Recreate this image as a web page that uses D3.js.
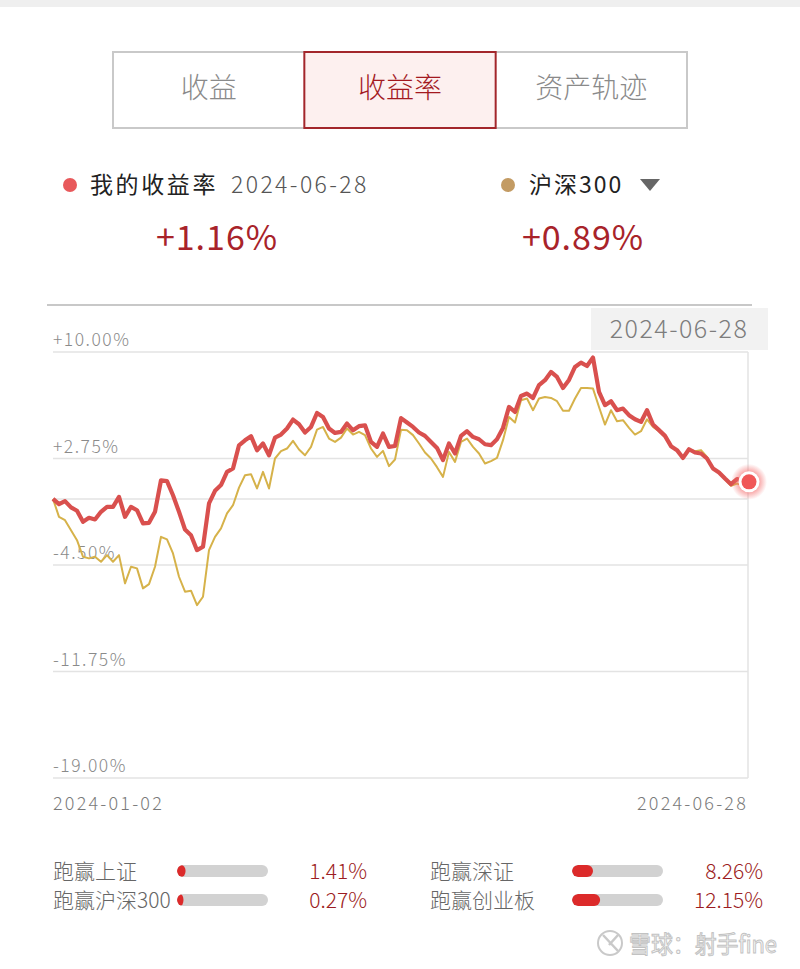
<!DOCTYPE html>
<html>
<head>
<meta charset="utf-8">
<script src="https://cdn.jsdelivr.net/npm/d3@7"></script>
<style>
body { margin: 0; background: #fff; }
text { font-family: "Noto Sans CJK SC", "Noto Sans", sans-serif; }
</style>
</head>
<body>
<div id="c"></div>
<script>
// values, one per trading day (2024-01-02 .. 2024-06-28)
var my_rate = [0.00, -0.36, -0.15, -0.58, -0.81, -1.56, -1.29, -1.40, -0.88, -0.54,
	-0.54, 0.14, -1.22, -0.54, -0.77, -1.67, -1.63, -0.88, 1.27, 1.21,
	0.25, -0.88, -2.08, -2.47, -3.49, -3.26, -0.31, 0.55, 0.94, 1.84,
	2.07, 3.65, 3.99, 4.27, 3.31, 3.77, 2.97, 4.17, 4.38, 4.79,
	5.40, 5.08, 4.52, 4.90, 5.85, 5.58, 4.79, 4.49, 4.56, 5.13,
	4.67, 4.95, 5.01, 3.88, 3.54, 4.45, 3.54, 3.60, 5.50, 5.20,
	4.90, 4.52, 4.29, 3.88, 3.47, 2.64, 3.77, 3.09, 4.29, 4.61,
	4.22, 4.06, 3.72, 3.66, 4.06, 4.83, 6.26, 5.92, 7.01, 7.17,
	6.87, 7.74, 8.08, 8.64, 8.30, 7.55, 8.10, 8.98, 9.28, 9.05,
	9.62, 7.28, 6.38, 6.65, 6.04, 6.15, 5.70, 5.42, 5.24, 6.04,
	5.06, 4.68, 4.29, 3.59, 3.32, 2.79, 3.38, 3.16, 3.09, 2.75,
	2.07, 1.80, 1.39, 1.00, 1.35, 1.20, 1.16];

var hs300 = [0.00, -1.22, -1.45, -2.13, -2.81, -3.94, -4.05, -3.94, -4.28, -3.83,
	-4.28, -3.83, -5.75, -4.62, -4.73, -6.09, -5.80, -4.62, -2.58, -2.76,
	-3.71, -5.30, -6.32, -6.25, -7.23, -6.66, -3.49, -2.58, -2.01, -0.99,
	-0.43, 0.77, 1.61, 1.68, 0.71, 1.84, 0.71, 2.75, 3.25, 3.43,
	3.95, 3.36, 2.97, 3.54, 4.72, 4.90, 4.11, 3.88, 4.17, 4.79,
	4.38, 4.56, 4.34, 3.43, 2.86, 3.27, 2.23, 2.68, 4.70, 4.68,
	4.34, 3.77, 3.16, 2.75, 2.16, 1.50, 3.20, 2.52, 3.88, 4.11,
	3.54, 3.09, 2.41, 2.57, 2.79, 4.00, 5.58, 5.20, 6.72, 6.83,
	6.04, 6.83, 6.94, 6.87, 6.65, 6.00, 6.00, 6.83, 7.55, 7.55,
	7.51, 6.26, 5.06, 6.04, 5.29, 5.36, 4.83, 4.38, 4.61, 5.42,
	4.90, 4.61, 4.22, 3.59, 3.32, 2.79, 3.38, 3.25, 3.32, 2.86,
	2.02, 1.80, 1.34, 0.89, 1.05, 0.93, 0.89];

var y_ticks = [10, 2.75, -4.5, -11.75, -19];
var x_labels = ["2024-01-02", "2024-06-28"];
var tabs = ["收益", "收益率", "资产轨迹"];
var beat_names = ["跑赢上证", "跑赢沪深300", "跑赢深证", "跑赢创业板"];
var beat_values = [1.41, 0.27, 8.26, 12.15];

var width = 800;
var height = 969;

var red = "#d9504e";
var gold = "#d6b24a";
var dark_red = "#a8232a";

var svg = d3.select("#c").append("svg")
	.attr("width", width)
	.attr("height", height);

var defs = svg.append("defs");

// top strip
svg.append("rect")
	.attr("x", 0).attr("y", 0)
	.attr("width", width).attr("height", 7)
	.attr("fill", "#efefef");

// ---- tabs ----
var tab_x = d3.scaleBand()
	.domain(tabs)
	.range([113, 687]);

svg.append("rect")
	.attr("x", 113).attr("y", 52)
	.attr("width", 574).attr("height", 76)
	.attr("fill", "#fff")
	.attr("stroke", "#c9c9c9")
	.attr("stroke-width", 2);

svg.append("rect")
	.attr("x", tab_x("收益率")).attr("y", 52)
	.attr("width", tab_x.bandwidth()).attr("height", 76)
	.attr("fill", "#fdf0ef")
	.attr("stroke", "#a3262b")
	.attr("stroke-width", 2);

svg.selectAll(".tab")
	.data(tabs)
	.enter()
	.append("text")
	.attr("class", "tab")
	.attr("x", function(d) { return tab_x(d) + tab_x.bandwidth() / 2; })
	.attr("y", 98)
	.attr("text-anchor", "middle")
	.attr("font-size", 28)
	.attr("font-weight", 300)
	.attr("fill", function(d) { return d == "收益率" ? "#a3191f" : "#8a8a8a"; })
	.text(function(d) { return d; });

// ---- legend ----
svg.append("circle").attr("cx", 70).attr("cy", 185).attr("r", 7).attr("fill", "#e8595b");
svg.append("text").attr("x", 90).attr("y", 193).attr("font-size", 23).attr("letter-spacing", 2.6)
	.attr("fill", "#222").text("我的收益率");
svg.append("text").attr("x", 231).attr("y", 193).attr("font-size", 23).attr("fill", "#555")
	.attr("font-weight", 300).attr("letter-spacing", 2.4).text("2024-06-28");

svg.append("circle").attr("cx", 508).attr("cy", 185).attr("r", 7).attr("fill", "#c39b63");
svg.append("text").attr("x", 529).attr("y", 193).attr("font-size", 23).attr("letter-spacing", 2)
	.attr("fill", "#222").text("沪深300");
svg.append("path").attr("d", "M640,179 L660,179 L650,191 Z").attr("fill", "#666");

svg.append("text").attr("x", 217).attr("y", 250).attr("text-anchor", "middle")
	.attr("font-size", 34).attr("fill", dark_red).attr("letter-spacing", 1)
	.text("+" + my_rate[my_rate.length - 1].toFixed(2) + "%");
svg.append("text").attr("x", 583).attr("y", 250).attr("text-anchor", "middle")
	.attr("font-size", 34).attr("fill", dark_red).attr("letter-spacing", 1)
	.text("+" + hs300[hs300.length - 1].toFixed(2) + "%");

// ---- chart ----
var x0 = 53, x1 = 749;
var x_scale = d3.scaleLinear()
	.domain([0, my_rate.length - 1])
	.range([x0, x1]);

var y_scale = d3.scaleLinear()
	.domain([-19, 10])
	.range([778, 352]);

svg.append("line")
	.attr("x1", 47).attr("x2", 752)
	.attr("y1", 305).attr("y2", 305)
	.attr("stroke", "#c8c8c8")
	.attr("stroke-width", 2);

var grid = svg.append("g");
grid.selectAll("line")
	.data(y_ticks.concat([0]))
	.enter()
	.append("line")
	.attr("x1", x0).attr("x2", 748)
	.attr("y1", function(d) { return y_scale(d); })
	.attr("y2", function(d) { return y_scale(d); })
	.attr("stroke", "#e3e3e3")
	.attr("stroke-width", 1.5);

grid.append("line")
	.attr("x1", 748).attr("x2", 748)
	.attr("y1", y_scale(10)).attr("y2", y_scale(-19))
	.attr("stroke", "#e3e3e3")
	.attr("stroke-width", 1.5);

function fmt_pct(v) {
	return (v > 0 ? "+" : v < 0 ? "-" : "") + Math.abs(v).toFixed(2) + "%";
}

grid.selectAll("text")
	.data(y_ticks)
	.enter()
	.append("text")
	.attr("x", x0)
	.attr("y", function(d) { return y_scale(d) - 6; })
	.attr("font-size", 17.5)
	.attr("font-weight", 300)
	.attr("letter-spacing", 1.5)
	.attr("fill", "#8a8a8a")
	.text(fmt_pct);

svg.selectAll(".xlab")
	.data(x_labels)
	.enter()
	.append("text")
	.attr("class", "xlab")
	.attr("x", function(d, i) { return i == 0 ? x0 : 748; })
	.attr("y", 810)
	.attr("text-anchor", function(d, i) { return i == 0 ? "start" : "end"; })
	.attr("font-size", 18)
	.attr("font-weight", 300)
	.attr("letter-spacing", 2.2)
	.attr("fill", "#7a7a7a")
	.text(function(d) { return d; });

var line = d3.line()
	.x(function(d, i) { return x_scale(i); })
	.y(function(d) { return y_scale(d); });

svg.append("path")
	.datum(hs300)
	.attr("d", line)
	.attr("fill", "none")
	.attr("stroke", gold)
	.attr("stroke-width", 2)
	.attr("stroke-linejoin", "round");

svg.append("path")
	.datum(my_rate)
	.attr("d", line)
	.attr("fill", "none")
	.attr("stroke", red)
	.attr("stroke-width", 4.2)
	.attr("stroke-linejoin", "round");

// date tip
svg.append("rect")
	.attr("x", 591).attr("y", 308)
	.attr("width", 177).attr("height", 42)
	.attr("fill", "#f2f2f2");
svg.append("text")
	.attr("x", 679).attr("y", 338)
	.attr("text-anchor", "middle")
	.attr("font-size", 25)
	.attr("font-weight", 300)
	.attr("letter-spacing", 1.5)
	.attr("fill", "#7d7d7d")
	.text(x_labels[1]);

// end marker
var glow = defs.append("radialGradient").attr("id", "glow");
glow.append("stop").attr("offset", "55%").attr("stop-color", "#f46a6a").attr("stop-opacity", 0.6);
glow.append("stop").attr("offset", "100%").attr("stop-color", "#f46a6a").attr("stop-opacity", 0);

var last_i = my_rate.length - 1;
svg.append("circle").attr("cx", x_scale(last_i)).attr("cy", y_scale(my_rate[last_i]))
	.attr("r", 18).attr("fill", "url(#glow)");
svg.append("circle").attr("cx", x_scale(last_i)).attr("cy", y_scale(my_rate[last_i]))
	.attr("r", 10.5).attr("fill", "#fff");
svg.append("circle").attr("cx", x_scale(last_i)).attr("cy", y_scale(my_rate[last_i]))
	.attr("r", 7.5).attr("fill", "#f05656");

// ---- beat stats ----
var bar_w = 91, bar_h = 12;
var bar_scale = d3.scaleLinear().domain([0, 50]).range([0, bar_w]);

var rows = svg.selectAll(".beat")
	.data(beat_names)
	.enter()
	.append("g")
	.attr("class", "beat")
	.attr("transform", function(d, i) {
		var col = i < 2 ? 0 : 1, row = i % 2;
		return "translate(" + (col == 0 ? 53 : 430) + "," + (row == 0 ? 871 : 900) + ")";
	});

rows.append("text")
	.attr("x", 0).attr("y", 8)
	.attr("font-size", 21)
	.attr("font-weight", 300)
	.attr("fill", "#666")
	.text(function(d) { return d; });

rows.append("clipPath")
	.attr("id", function(d, i) { return "bclip" + i; })
	.append("rect")
	.attr("x", function(d, i) { return i < 2 ? 124 : 142; })
	.attr("y", -bar_h / 2)
	.attr("width", bar_w).attr("height", bar_h)
	.attr("rx", bar_h / 2);

rows.append("rect")
	.attr("x", function(d, i) { return i < 2 ? 124 : 142; })
	.attr("y", -bar_h / 2)
	.attr("width", bar_w).attr("height", bar_h)
	.attr("rx", bar_h / 2)
	.attr("fill", "#d2d2d2");

rows.append("rect")
	.attr("clip-path", function(d, i) { return "url(#bclip" + i + ")"; })
	.attr("x", function(d, i) { return i < 2 ? 124 : 142; })
	.attr("y", -bar_h / 2)
	.attr("width", function(d, i) { return bar_scale(beat_values[i]) + bar_h / 2; })
	.attr("height", bar_h)
	.attr("rx", bar_h / 2)
	.attr("fill", "#dc2a2a");

rows.append("text")
	.attr("x", function(d, i) { return i < 2 ? 314 : 333; })
	.attr("y", 8)
	.attr("text-anchor", "end")
	.attr("font-size", 21)
	.attr("font-weight", 300)
	.attr("fill", "#9c1c22")
	.text(function(d, i) { return beat_values[i].toFixed(2) + "%"; });

// watermark
var wm = svg.append("g").attr("opacity", 0.9);
wm.append("circle").attr("cx", 610).attr("cy", 943).attr("r", 12)
	.attr("fill", "none").attr("stroke", "#c4c4c4").attr("stroke-width", 2);
wm.append("path").attr("d", "M603,935 L618,951 M618,935 L609,945")
	.attr("stroke", "#c4c4c4").attr("stroke-width", 2.5).attr("fill", "none");
wm.append("text").attr("x", 629).attr("y", 953)
	.attr("font-size", 24).attr("fill", "#f7f7f7")
	.attr("stroke", "#bcbcbc").attr("stroke-width", 1)
	.attr("textLength", 148).attr("lengthAdjust", "spacingAndGlyphs")
	.text("雪球：射手fine");
</script>
</body>
</html>
